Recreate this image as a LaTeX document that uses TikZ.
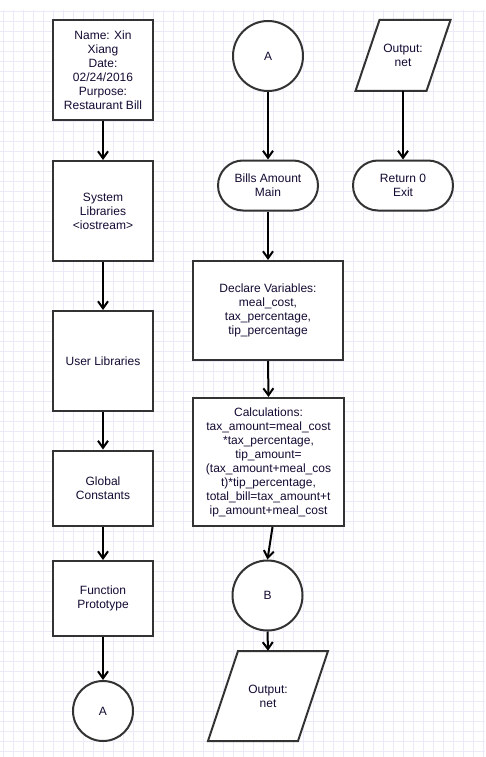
\documentclass[tikz,border=0pt]{standalone}
\usepackage{fontspec}
\setmainfont{Liberation Sans}
\usetikzlibrary{arrows.meta}
\definecolor{gridc}{RGB}{236,234,248}
\definecolor{edgec}{RGB}{51,51,51}
\definecolor{textc}{RGB}{20,10,50}
\begin{document}
\begin{tikzpicture}[x=1pt,y=-1pt,
  base/.style={inner sep=0pt, align=center, text=textc,
    font=\fontsize{12}{14}\selectfont},
  shapeline/.style={draw=edgec, line width=2pt, fill=white},
  procbox/.style={base, shapeline, rectangle},
  termbox/.style={base, shapeline, rectangle, rounded corners=25pt,
    minimum width=100pt, minimum height=50pt},
  connector/.style={base, shapeline, circle},
  iobox/.style={base, rectangle},
  flow/.style={line width=2pt, black,
    -{Straight Barb[length=7pt,width=10pt]}}]

% canvas and grid
\fill[white] (0,0) rectangle (485,757);
\useasboundingbox (0,0) rectangle (485,757);
\foreach \gx in {3,13,...,483} \draw[gridc, line width=0.9pt] (\gx,10) -- (\gx,757);
\foreach \gy in {11,21,...,751} \draw[gridc, line width=0.9pt] (0,\gy) -- (485,\gy);

% left column: program header
\node[procbox, minimum width=100pt, minimum height=100pt] (hdr) at (103,70.5)
  {Name: Xin\\Xiang\\Date:\\02/24/2016\\Purpose:\\Restaurant Bill};
\node[procbox, minimum width=100pt, minimum height=100pt] (sys) at (103,211)
  {System\\Libraries\\<iostream>};
\node[procbox, minimum width=100pt, minimum height=100pt] (usr) at (103,361)
  {User Libraries};
\node[procbox, minimum width=100pt, minimum height=75pt] (glob) at (103,488)
  {Global\\Constants};
\node[procbox, minimum width=100pt, minimum height=75pt] (proto) at (103,598.5)
  {Function\\Prototype};
\node[connector, minimum size=60pt] (conA1) at (103,711) {A};

% middle column: main body
\node[connector, minimum size=70pt] (conA2) at (268,56) {A};
\node[termbox] (main) at (268,185.5) {Bills Amount\\Main};
\node[procbox, minimum width=150pt, minimum height=99pt] (decl) at (268,310.5)
  {Declare Variables:\\meal\_cost,\\tax\_percentage,\\tip\_percentage};
\node[procbox, minimum width=151pt, minimum height=128pt] (calc) at (268.5,462)
  {Calculations:\\tax\_amount=meal\_cost\\*tax\_percentage,\\tip\_amount=\\(tax\_amount+meal\_cos\\t)*tip\_percentage,\\total\_bill=tax\_amount+t\\ip\_amount+meal\_cost};
\node[connector, minimum size=70pt] (conB) at (267.5,595.5) {B};
\path[shapeline] (268,696) ++(-30,-45) -- ++(90,0) -- ++(-30,90) -- ++(-90,0) -- cycle;
\node[iobox, minimum width=90pt, minimum height=90pt] (out2) at (268,696) {Output:\\net};

% right column: end of program
\path[shapeline] (403,55.5) ++(-23.5,-35.5) -- ++(71,0) -- ++(-24,71) -- ++(-71,0) -- cycle;
\node[iobox, minimum width=71pt, minimum height=71pt] (out1) at (403,55.5) {Output:\\net};
\node[termbox] (ret) at (403,185.5) {Return 0\\Exit};

% flow lines
\draw[flow] (hdr.south) -- (sys.north);
\draw[flow] (sys.south) -- (usr.north);
\draw[flow] (usr.south) -- (glob.north);
\draw[flow] (glob.south) -- (proto.north);
\draw[flow] (proto.south) -- (conA1.north);
\draw[flow] (conA2.south) -- (main.north);
\draw[flow] (main.south) -- (decl.north);
\draw[flow] (decl.south) -- (calc.north);
\draw[flow] ([xshift=4pt]calc.south) -- (conB.north);
\draw[flow] (conB.south) -- (out2.north);
\draw[flow] (out1.south) -- (ret.north);
\end{tikzpicture}
\end{document}
